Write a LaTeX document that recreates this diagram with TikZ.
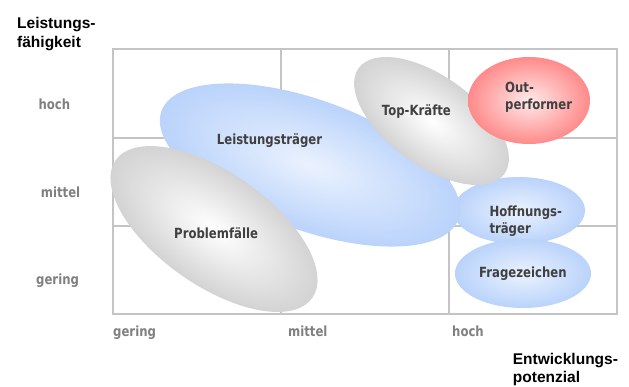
\documentclass[tikz,border=0pt]{standalone}
\usepackage{fontspec}
\setmainfont{DejaVu Sans}
\newfontfamily\lblfont[FakeStretch=0.835]{DejaVu Sans}
\newfontfamily\titlefont{Liberation Sans}
\usetikzlibrary{shapes.geometric}
\definecolor{gridgray}{HTML}{C4C4C4}
\definecolor{axisgray}{HTML}{808080}
\definecolor{labelgray}{HTML}{404040}
\definecolor{blobblue}{HTML}{BAD3FB}
\definecolor{blobgray}{HTML}{D3D3D3}
\definecolor{blobred}{HTML}{FF8A8A}
\tikzset{
  blob/.style={ellipse, inner sep=0pt, outer sep=0pt, shading=radial},
  blueblob/.style={blob, inner color=blobblue!30!white, outer color=blobblue},
  grayblob/.style={blob, inner color=white, outer color=blobgray},
  redblob/.style={blob, inner color=blobred!18!white, outer color=blobred},
  gridline/.style={draw=gridgray, line width=2pt},
  axislbl/.style={font=\lblfont\fontsize{14}{16}\selectfont\bfseries, text=axisgray, inner sep=0pt, anchor=base west},
  blobtext/.style={font=\lblfont\fontsize{14}{16.4}\selectfont\bfseries, text=labelgray, inner sep=0pt, anchor=base west, align=left},
  titletext/.style={font=\titlefont\fontsize{15.5}{19}\selectfont\bfseries, text=black, inner sep=0pt, anchor=base west, align=left}
}
\begin{document}
\begin{tikzpicture}[x=1pt, y=-1pt]
\useasboundingbox (0,0) rectangle (629,386);
\fill[white] (0,0) rectangle (629,386);
% grid
\draw[gridline] (113,49) rectangle (617,314);
\draw[gridline] (281,49) -- (281,314) (449,49) -- (449,314);
\draw[gridline] (113,137.5) -- (617,137.5) (113,225.7) -- (617,225.7);
% ellipses
\begin{scope}[transform canvas={shift={(519,210.5)}}]
  \node[blueblob, minimum width=132pt, minimum height=67pt] (ht) {};
\end{scope}
\begin{scope}[transform canvas={shift={(523,273.5)}}]
  \node[blueblob, minimum width=136pt, minimum height=69pt] (fz) {};
\end{scope}
\begin{scope}[transform canvas={shift={(310,165)}, rotate=-20}]
  \node[blueblob, minimum width=316pt, minimum height=130pt] (lt) {};
\end{scope}
\begin{scope}[transform canvas={shift={(214,229)}, rotate=-35}]
  \node[grayblob, minimum width=240pt, minimum height=113pt] (pf) {};
\end{scope}
\begin{scope}[transform canvas={shift={(431.5,121)}, rotate=-36}]
  \node[grayblob, minimum width=180pt, minimum height=89pt] (tk) {};
\end{scope}
\begin{scope}[transform canvas={shift={(529,100.5)}}]
  \node[redblob, minimum width=122pt, minimum height=87pt] (op) {};
\end{scope}
% ellipse labels
\node[blobtext] (ltl) at (216.7,144.3) {Leistungsträger};
\node[blobtext] (tkl) at (381.7,115.3) {Top-Kräfte};
\node[blobtext] (opl) at (505,109.2) {Out-\\performer};
\node[blobtext] (pfl) at (174,238.3) {Problemfälle};
\node[blobtext] (htl) at (489.3,233.3) {Hoffnungs-\\träger};
\node[blobtext] (fzl) at (479,277.3) {Fragezeichen};
% axis labels
\node[axislbl] (yh) at (38.3,109.3) {hoch};
\node[axislbl] (ym) at (40.7,197.3) {mittel};
\node[axislbl] (yg) at (36,284) {gering};
\node[axislbl] (xg) at (113,336.7) {gering};
\node[axislbl] (xm) at (288,336.7) {mittel};
\node[axislbl] (xh) at (452,336.7) {hoch};
% titles
\node[titletext] (ytitle) at (17,47.4) {Leistungs-\\fähigkeit};
\node[titletext, font=\titlefont\fontsize{15.5}{18}\selectfont\bfseries] (xtitle) at (512.7,382.3) {Entwicklungs-\\potenzial};
\end{tikzpicture}
\end{document}
